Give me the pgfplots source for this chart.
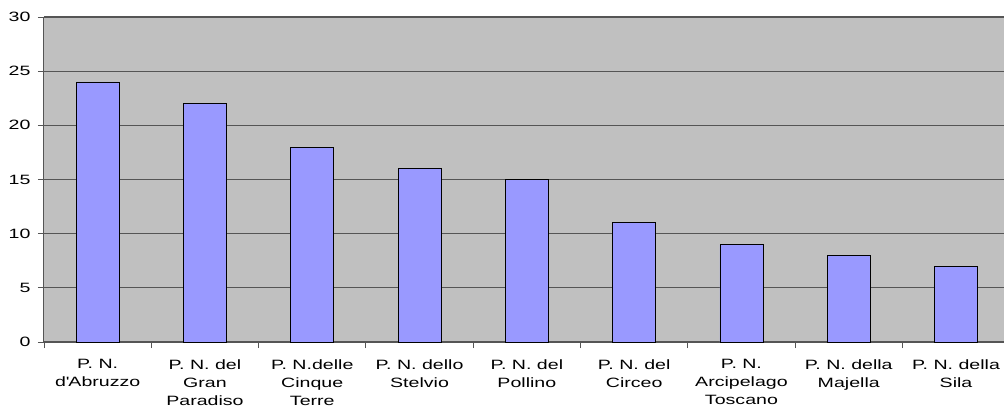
\documentclass[border=0pt]{standalone}
\usepackage{fontspec}
\setmainfont{Liberation Sans}[FakeStretch=1.45]
\usepackage{pgfplots}
\pgfplotsset{compat=1.18}
\definecolor{plotbg}{HTML}{C0C0C0}
\definecolor{barfill}{HTML}{9999FF}
\definecolor{gridc}{HTML}{555555}
\begin{document}
\begin{tikzpicture}
\clip (-44bp,-77bp) rectangle (960bp,342bp);
\begin{axis}[
  scale only axis, width=965.7bp, height=325bp,
  xmin=-0.5, xmax=8.5, ymin=0, ymax=30,
  ytick={0,5,...,30},
  axis background/.style={fill=plotbg},
  ymajorgrids, grid style={gridc, line width=1.2bp},
  axis x line*=bottom, axis y line*=left,
  axis line style={gridc, line width=1bp},
  tick style={gridc, line width=0.8bp},
  major tick length=6bp,
  tick align=outside,
  xtick={-0.5,0.5,...,7.5},
  xticklabels={{P. N.\\d\textquotesingle Abruzzo},{P. N. del\\Gran\\Paradiso},{P. N.delle\\Cinque\\Terre},{P. N. dello\\Stelvio},{P. N. del\\Pollino},{P. N. del\\Circeo},{P. N.\\Arcipelago\\Toscano},{P. N. della\\Majella},{P. N. della\\Sila}},
  xticklabel style={xshift=53.65bp, yshift=-8bp, align=center},
  yticklabel style={xshift=-4bp},
  tick label style={font=\fontsize{13.5bp}{18bp}\selectfont},
  /pgf/number format/assume math mode=true,
]
\addplot[ybar, bar width=43bp, fill=barfill, draw=black, line width=0.8bp] coordinates {
  (0,24) (1,22) (2,18) (3,16) (4,15) (5,11) (6,9) (7,8) (8,7)
};
\end{axis}
\end{tikzpicture}
\end{document}
